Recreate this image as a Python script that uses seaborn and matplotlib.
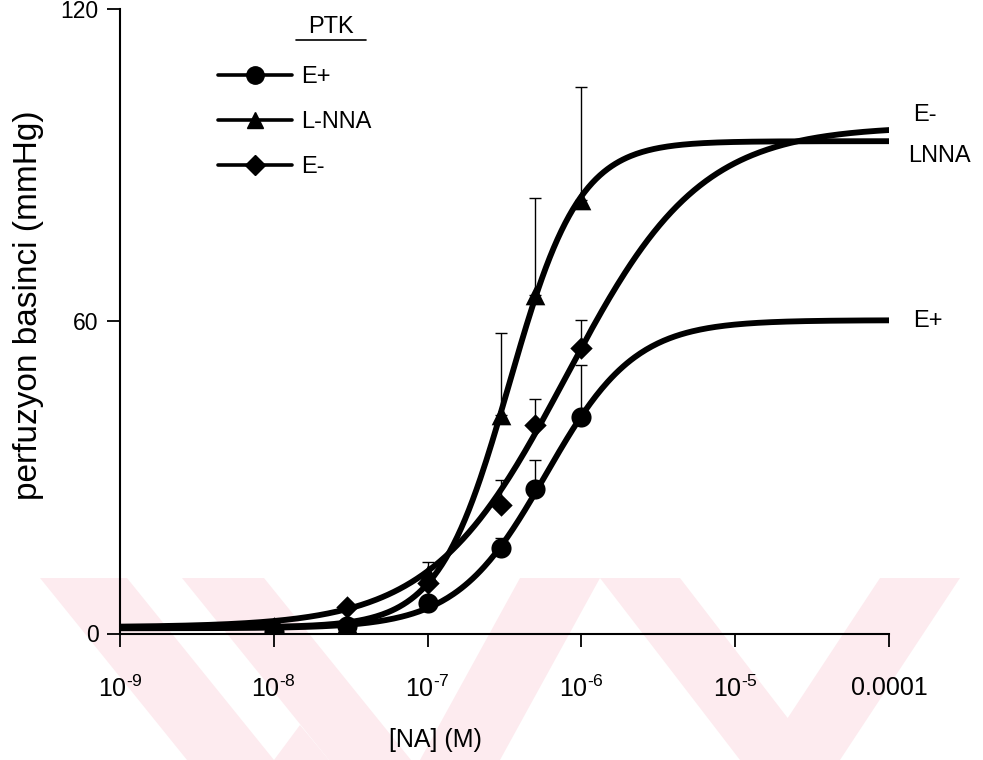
import numpy as np
import pandas as pd
import matplotlib
matplotlib.use("Agg")
import matplotlib.pyplot as plt
from matplotlib.patches import Polygon
from matplotlib.lines import Line2D
import seaborn as sns

# ---------------- data ----------------
conc = [1e-8, 3e-8, 1e-7, 3e-7, 5e-7, 1e-6]

eplus_mean = [0.3, 1.5, 5.9, 16.4, 27.8, 41.6]
eplus_err = [0.0, 0.0, 0.0, 2.0, 5.5, 10.0]

lnna_mean = [1.0, 2.0, 11.5, 42.0, 65.0, 83.3]
lnna_err = [0.0, 0.0, 2.3, 15.7, 18.6, 21.7]

eminus_mean = [1.0, 5.1, 9.7, 24.7, 40.1, 54.9]
eminus_err = [0.0, 0.0, 1.0, 4.8, 5.0, 5.4]

# fitted sigmoid parameters: bottom, top, logEC50, hill slope
eplus_fit = [1.0, 60.2, -6.23, 1.5]
lnna_fit = [1.2, 94.6, -6.47, 1.9]
eminus_fit = [1.2, 97.5, -6.10, 1.0]

series_names = ["E+", "L-NNA", "E-"]
series_markers = ["o", "^", "D"]
end_labels = ["E-", "LNNA", "E+"]
y_ticks = [0, 60, 120]
x_ticks = [1e-9, 1e-8, 1e-7, 1e-6, 1e-5, 1e-4]
x_ticklabels = [r"$10^{\text{-9}}$", r"$10^{\text{-8}}$", r"$10^{\text{-7}}$",
                r"$10^{\text{-6}}$", r"$10^{\text{-5}}$", "0.0001"]

# ---------------- style ----------------
sns.set_theme(style="white")
plt.rcParams["font.family"] = ["Liberation Sans", "DejaVu Sans"]
plt.rcParams["mathtext.fontset"] = "custom"
plt.rcParams["mathtext.rm"] = "Liberation Sans"
plt.rcParams["mathtext.it"] = "Liberation Sans:italic"
plt.rcParams["mathtext.bf"] = "Liberation Sans:bold"
plt.rcParams["mathtext.sf"] = "Liberation Sans"
plt.rcParams["text.color"] = "black"
plt.rcParams["axes.labelcolor"] = "black"
plt.rcParams["xtick.color"] = "black"
plt.rcParams["ytick.color"] = "black"

W, H = 983, 760
FS = 17
fig = plt.figure(figsize=(W / 100, H / 100), dpi=100)
fig.patch.set_facecolor("white")

def px(x, y):
    return (x / W, 1 - y / H)

# faint watermark (scan artefact) behind the chart
bg = fig.add_axes([0, 0, 1, 1], zorder=-5)
bg.set_xlim(0, W)
bg.set_ylim(H, 0)
bg.axis("off")
wm_color = "#fdebef"
wm_polys = [
    [(40, 578), (127, 578), (274, 760), (187, 760)],
    [(182, 578), (264, 578), (411, 760), (329, 760)],
    [(274, 760), (329, 760), (300, 725)],
    [(420, 760), (500, 760), (600, 578), (520, 578)],
    [(600, 578), (680, 578), (820, 760), (740, 760)],
    [(760, 760), (840, 760), (960, 578), (880, 578)],
]
for poly in wm_polys:
    bg.add_patch(Polygon(poly, closed=True, facecolor=wm_color, edgecolor="none"))

ax = fig.add_axes([120 / W, 1 - 633.5 / H, (889 - 120) / W, (633.5 - 9) / H], zorder=1)
ax.patch.set_alpha(0)

# ---------------- curves ----------------
xs = np.logspace(-9, -4, 400)

def logistic(p, x):
    b, t, lec, h = p
    return b + (t - b) / (1 + 10 ** ((lec - np.log10(x)) * h))

curve_df = pd.concat([
    pd.DataFrame({"conc": xs, "resp": logistic(p, xs), "grp": n})
    for p, n in zip([eplus_fit, lnna_fit, eminus_fit], series_names)
])
sns.lineplot(data=curve_df, x="conc", y="resp", units="grp", estimator=None,
             color="black", lw=4.2, ax=ax, legend=False, zorder=3)

# ---------------- points + error bars ----------------
for mean, err, mk in zip([eplus_mean, lnna_mean, eminus_mean],
                         [eplus_err, lnna_err, eminus_err], series_markers):
    ax.errorbar(conc, mean, yerr=[np.zeros(len(err)), err], fmt="none",
                ecolor="black", elinewidth=1.0, capsize=4.5, capthick=1.0, zorder=2)
    pts = pd.DataFrame({"conc": conc, "resp": mean})
    ms = 210 if mk == "o" else (200 if mk == "^" else 130)
    sns.scatterplot(data=pts, x="conc", y="resp", marker=mk, s=ms, color="black",
                    edgecolor="black", linewidth=0, ax=ax, zorder=4, legend=False)

# ---------------- axes ----------------
ax.set_xscale("log")
ax.set_xlim(1e-9, 1e-4)
ax.set_ylim(0, 120)
ax.set_xticks(x_ticks)
ax.set_xticklabels(x_ticklabels)
ax.xaxis.set_minor_locator(matplotlib.ticker.NullLocator())
ax.set_yticks(y_ticks)
ax.set_yticklabels([str(v) for v in y_ticks])
ax.tick_params(axis="both", direction="out", length=9.5, width=1.3,
               colors="black", labelsize=18, bottom=True, left=True)
ax.tick_params(axis="x", pad=21)
ax.tick_params(axis="y", pad=6, labelsize=16.5)
for s in ["top", "right"]:
    ax.spines[s].set_visible(False)
for s in ["left", "bottom"]:
    ax.spines[s].set_color("black")
    ax.spines[s].set_linewidth(1.5)
ax.set_xlabel("")
ax.set_ylabel("")

fig.text(*px(29, 305), "perfuzyon basinci (mmHg)", rotation=90,
         ha="center", va="center", fontsize=24)
fig.text(*px(435, 740), "[NA] (M)", ha="center", va="center", fontsize=FS + 1)

# ---------------- legend ----------------
handles = [Line2D([], [], color="black", lw=2.6, marker=m,
                  markersize=(12.5 if m == "o" else 11.5 if m == "^" else 10))
           for m in series_markers]
leg = ax.legend(handles, series_names, loc="upper left",
                bbox_to_anchor=px(218, 66), bbox_transform=fig.transFigure,
                frameon=False, handlelength=3.15, handletextpad=0.35,
                labelspacing=0.97, fontsize=FS, borderaxespad=0, borderpad=0)
fig.text(*px(331, 27), "PTK", ha="center", va="center", fontsize=FS)
fig.add_artist(Line2D([296 / W, 366 / W], [1 - 40 / H, 1 - 40 / H],
                      color="black", lw=1.2, transform=fig.transFigure))

# ---------------- end labels ----------------
fig.text(*px(913, 115), end_labels[0], ha="left", va="center", fontsize=FS)
fig.text(*px(908, 156), end_labels[1], ha="left", va="center", fontsize=FS)
fig.text(*px(913, 321), end_labels[2], ha="left", va="center", fontsize=FS)

fig.savefig("out.png", dpi=100, facecolor="white")
